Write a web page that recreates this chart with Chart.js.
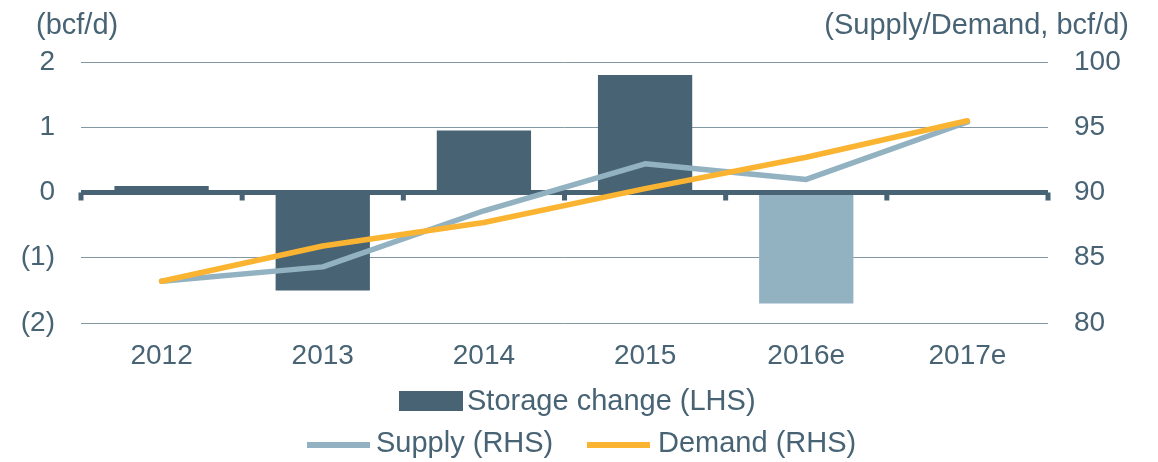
<!DOCTYPE html>
<html>
<head>
<meta charset="utf-8">
<script src="https://cdn.jsdelivr.net/npm/chart.js@4.4.1/dist/chart.umd.min.js"></script>
<style>
  html, body { margin: 0; padding: 0; background: #ffffff; }
  #wrap { width: 1158px; height: 462px; position: relative; }
</style>
</head>
<body>
<div id="wrap"><canvas id="c" width="1158" height="462"></canvas></div>
<script>
const categories = ['2012', '2013', '2014', '2015', '2016e', '2017e'];
const storageChange = [0.1, -1.5, 0.95, 1.8, -1.7, 0];
const supply = [83.2, 84.3, 88.6, 92.2, 91.0, 95.4];
const demand = [83.2, 85.9, 87.7, 90.3, 92.7, 95.5];
const leftTicks = [-2, -1, 0, 1, 2];
const rightTicks = [80, 85, 90, 95, 100];
const leftTitle = '(bcf/d)';
const rightTitle = '(Supply/Demand, bcf/d)';
const barLabel = 'Storage change (LHS)';
const supplyLabel = 'Supply (RHS)';
const demandLabel = 'Demand (RHS)';

const DARK = '#476374';
const LIGHT = '#93b2c1';
const ORANGE = '#fbb431';
const TEXT = '#476374';
const GRID = '#8498a4';
const FONT = "'Liberation Sans', Arial, sans-serif";

const barColors = categories.map(c => c === '2016e' ? LIGHT : DARK);

const zeroLinePlugin = {
  id: 'zeroLine',
  afterDatasetDraw(chart, args) {
    if (args.index !== 0) return;
    const ctx = chart.ctx;
    const area = chart.chartArea;
    const y = chart.scales.y.getPixelForValue(0);
    const xs = chart.scales.x;
    ctx.save();
    ctx.fillStyle = DARK;
    ctx.fillRect(area.left, y - 2.5, area.right - area.left, 5);
    const n = categories.length;
    const step = (area.right - area.left) / n;
    for (let i = 0; i <= n; i++) {
      let x;
      if (i < n) x = xs.getPixelForValue(i) - step / 2; else x = xs.getPixelForValue(n - 1) + step / 2;
      ctx.fillRect(x - 2.5, y, 5, 8);
    }
    ctx.restore();
  }
};

const titlesLegendPlugin = {
  id: 'titlesLegend',
  afterDraw(chart) {
    const ctx = chart.ctx;
    ctx.save();
    ctx.font = '29px ' + FONT;
    ctx.fillStyle = TEXT;
    ctx.textBaseline = 'middle';
    ctx.textAlign = 'left';
    ctx.fillText(leftTitle, 36, 26);
    ctx.textAlign = 'right';
    ctx.fillText(rightTitle, 1129, 26);
    // legend row 1
    ctx.textAlign = 'left';
    ctx.fillStyle = DARK;
    ctx.fillRect(399, 391, 64, 20);
    ctx.fillStyle = TEXT;
    ctx.fillText(barLabel, 467, 402);
    // legend row 2
    ctx.fillStyle = LIGHT;
    ctx.fillRect(307, 442, 63, 6);
    ctx.fillStyle = TEXT;
    ctx.fillText(supplyLabel, 376, 444);
    ctx.fillStyle = ORANGE;
    ctx.fillRect(587, 442, 63, 6);
    ctx.fillStyle = TEXT;
    ctx.fillText(demandLabel, 658, 444);
    ctx.restore();
  }
};

new Chart(document.getElementById('c'), {
  data: {
    labels: categories,
    datasets: [
      {
        type: 'bar',
        label: barLabel,
        data: storageChange,
        backgroundColor: barColors,
        borderWidth: 0,
        yAxisID: 'y',
        order: 3,
        categoryPercentage: 1.0,
        barPercentage: 0.585
      },
      {
        type: 'line',
        label: supplyLabel,
        data: supply,
        borderColor: LIGHT,
        backgroundColor: LIGHT,
        borderWidth: 5.5,
        pointRadius: 0,
        tension: 0,
        borderCapStyle: 'round',
        borderJoinStyle: 'round',
        yAxisID: 'y1',
        order: 2
      },
      {
        type: 'line',
        label: demandLabel,
        data: demand,
        borderColor: ORANGE,
        backgroundColor: ORANGE,
        borderWidth: 5.5,
        pointRadius: 0,
        tension: 0,
        borderCapStyle: 'round',
        borderJoinStyle: 'round',
        yAxisID: 'y1',
        order: 1
      }
    ]
  },
  options: {
    responsive: false,
    animation: false,
    layout: { padding: { top: 62, left: 0, right: 0, bottom: 90 } },
    plugins: {
      legend: { display: false },
      tooltip: { enabled: false }
    },
    scales: {
      x: {
        grid: { display: false, drawTicks: false },
        border: { display: false },
        ticks: { color: TEXT, font: { family: FONT, size: 28 }, padding: 16, maxRotation: 0 },
        afterFit(scale) { scale.height = 49; }
      },
      y: {
        position: 'left',
        min: -2, max: 2,
        afterBuildTicks(scale) { scale.ticks = leftTicks.map(v => ({ value: v })); },
        grid: {
          drawTicks: false,
          color: ctx => ctx.tick && ctx.tick.value === 0 ? 'rgba(0,0,0,0)' : GRID,
          lineWidth: 1
        },
        border: { display: false },
        ticks: {
          color: TEXT,
          font: { family: FONT, size: 28 },
          padding: 26,
          callback: v => v < 0 ? '(' + Math.abs(v) + ')' : String(v)
        },
        afterFit(scale) { scale.width = 81; }
      },
      y1: {
        position: 'right',
        min: 80, max: 100,
        afterBuildTicks(scale) { scale.ticks = rightTicks.map(v => ({ value: v })); },
        grid: { display: false, drawTicks: false },
        border: { display: false },
        ticks: { color: TEXT, font: { family: FONT, size: 28 }, padding: 26 },
        afterFit(scale) { scale.width = 110; }
      }
    }
  },
  plugins: [zeroLinePlugin, titlesLegendPlugin]
});
</script>
</body>
</html>
